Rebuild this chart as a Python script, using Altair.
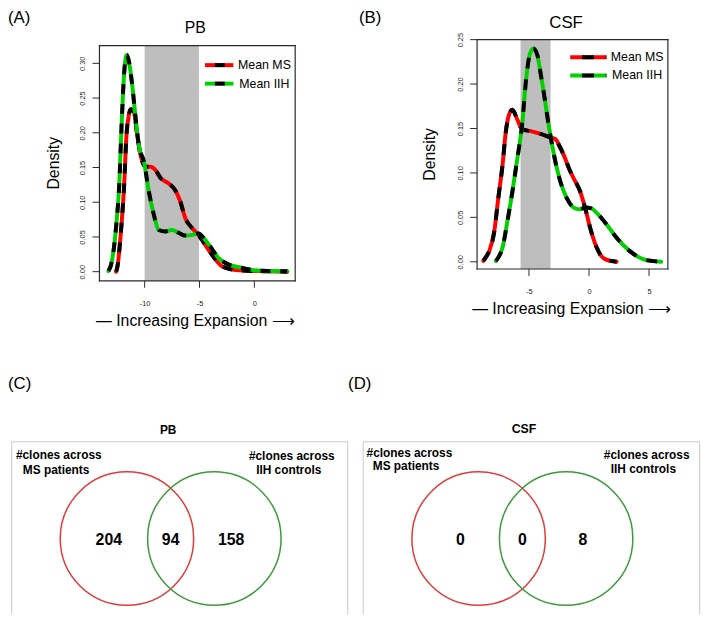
import altair as alt
import pandas as pd

FONT = "Liberation Sans"

# ------------------------------------------------------------------ data
# (A) PB density curves
pb_ms_x = [-12.6, -12.45, -12.32, -12.1, -11.87, -11.66, -11.45, -11.27, -10.97, -10.67,
           -10.36, -9.91, -9.46, -9.0, -8.55, -7.8, -7.2, -6.75, -6.29, -5.69, -5.09,
           -4.79, -3.89, -2.98, -2.08, -1.0, 0.04, 1.5, 3.0]
pb_ms_y = [0.000, 0.010, 0.029, 0.070, 0.124, 0.196, 0.225, 0.234, 0.229, 0.196,
           0.167, 0.151, 0.151, 0.146, 0.135, 0.127, 0.117, 0.101, 0.077, 0.063, 0.053,
           0.046, 0.025, 0.008, 0.0034, 0.0015, 0.001, 0.0005, 0.0]
pb_iih_x = [-13.3, -13.1, -12.93, -12.6, -12.32, -12.08, -11.85, -11.63, -11.4, -11.12,
            -10.81, -10.52, -10.06, -9.61, -9.16, -8.71, -8.1, -7.5, -6.9, -6.29, -5.6,
            -5.09, -4.6, -4.19, -3.28, -2.38, -1.18, 0.04, 1.5, 3.0]
pb_iih_y = [0.001, 0.008, 0.020, 0.065, 0.124, 0.219, 0.290, 0.312, 0.300, 0.267,
            0.219, 0.181, 0.158, 0.115, 0.082, 0.060, 0.058, 0.060, 0.056, 0.052, 0.053,
            0.055, 0.048, 0.040, 0.020, 0.0105, 0.0057, 0.002, 0.001, 0.0005]
pb_band = [-10.0, -5.05]

# (B) CSF density curves
csf_ms_x = [-8.8, -8.6, -8.31, -7.89, -7.56, -7.2, -6.93, -6.65, -6.38, -5.97, -5.55,
            -4.86, -4.03, -3.21, -2.79, -2.45, -2.1, -1.6, -1.28, -0.73, -0.31, 0.1,
            0.64, 1.0, 1.34, 2.3]
csf_ms_y = [0.001, 0.005, 0.012, 0.034, 0.071, 0.109, 0.146, 0.166, 0.171, 0.160, 0.149,
            0.147, 0.144, 0.140, 0.138, 0.130, 0.120, 0.103, 0.094, 0.079, 0.060, 0.038,
            0.016, 0.007, 0.003, 0.0]
csf_iih_x = [-7.75, -7.5, -7.2, -6.79, -6.38, -5.97, -5.55, -5.27, -4.92, -4.64, -4.31,
             -4.03, -3.76, -3.43, -3.16, -2.79, -2.38, -1.83, -1.28, -0.8, -0.31, 0.2,
             0.64, 1.47, 2.3, 3.4, 4.5, 5.2, 6.0]
csf_iih_y = [0.001, 0.006, 0.016, 0.046, 0.079, 0.116, 0.157, 0.201, 0.234, 0.240, 0.233,
             0.212, 0.190, 0.160, 0.138, 0.112, 0.090, 0.071, 0.061, 0.059, 0.061, 0.060,
             0.055, 0.042, 0.027, 0.012, 0.003, 0.001, 0.0]
csf_band = [-5.7, -3.2]

pb_xticks = [-10, -5, 0]
pb_yticks = [0.0, 0.05, 0.10, 0.15, 0.20, 0.25, 0.30]
csf_xticks = [-5, 0, 5]
csf_yticks = [0.0, 0.05, 0.10, 0.15, 0.20, 0.25]

legend_labels = ["Mean MS", "Mean IIH"]

# (C)/(D) Venn counts: MS only, shared, IIH only
venn_groups = ["MS", "IIH"]
pb_counts = [204, 94, 158]
csf_counts = [0, 0, 8]

# ------------------------------------------------------------------ layout
W, H = 701, 606
M = 8  # page margin


def px(v):
    return v - M


RED, GREEN = "#FF0000", "#00D000"
VRED, VGREEN = "#E4393B", "#3C9A3C"
INK = "#2a2a2a"

# plot frames (reference pixel coordinates: left, right, top, bottom)
A_BOX = (100.5, 298.5, 42.5, 280.5)
B_BOX = (482.5, 675.5, 36.5, 268.5)

A_X = ([-14.12, 3.72], [px(A_BOX[0]), px(A_BOX[1])])
A_Y = ([-0.0132, 0.3256], [px(A_BOX[3]), px(A_BOX[2])])
B_X = ([-9.32, 6.57], [px(B_BOX[0]), px(B_BOX[1])])
B_Y = ([-0.0081, 0.25], [px(B_BOX[3]), px(B_BOX[2])])

V_XDOM = [-2.365, 2.635]
V_YDOM = [-1.257, 1.44]
C_X = (V_XDOM, [px(11.7), px(351.7)])
D_X = (V_XDOM, [px(367.3), px(707.7)])
V_Y = (V_YDOM, [px(626.7), px(443.3)])
venn_centers = [-0.65, 0.65]
venn_label_x = [-0.92, 0.0, 0.9]

XTITLE = "— Increasing Expansion ⟶"
TICK = 7


def sc(s):
    return alt.Scale(domain=s[0], range=s[1], nice=False, zero=False)


def curve(xv, yv, color, XS, YS, dash):
    df = pd.DataFrame({"x": xv, "y": yv})
    base = alt.Chart(df).encode(
        x=alt.X("x:Q", scale=sc(XS), axis=None),
        y=alt.Y("y:Q", scale=sc(YS), axis=None),
    )
    col = base.mark_line(color=color, strokeWidth=4, interpolate="monotone",
                         strokeCap="round")
    blk = base.mark_line(color="black", strokeWidth=4, interpolate="monotone",
                         strokeDash=[dash, dash], strokeCap="butt")
    return [col, blk]


def rect(XS, YS, xr, yr, **style):
    df = pd.DataFrame({"x1": [xr[0]], "x2": [xr[1]], "y1": [yr[0]], "y2": [yr[1]]})
    return alt.Chart(df).mark_rect(**style).encode(
        x=alt.X("x1:Q", scale=sc(XS), axis=None), x2="x2:Q",
        y=alt.Y("y1:Q", scale=sc(YS), axis=None), y2="y2:Q")


def bar(x0, x1, y0, y1, color):
    # thin filled strip used for the plot border
    return alt.Chart(pd.DataFrame({"k": [0]})).mark_rect(
        color=color, opacity=1).encode(
        x=alt.value(px(x0)), x2=alt.value(px(x1)),
        y=alt.value(px(y0)), y2=alt.value(px(y1)))


def plot_frame(box, color=INK, w=1.2):
    l, r, t, b = box
    h = w / 2
    return [bar(l - h, r + h, t - h, t + h, color),
            bar(l - h, r + h, b - h, b + h, color),
            bar(l - h, l + h, t - h, b + h, color),
            bar(r - h, r + h, t - h, b + h, color)]


def tick_marks(XS, YS, xvals, yvals, box):
    l, r, t, b = box
    xt = alt.Chart(pd.DataFrame({"tv": xvals})).mark_rule(
        color=INK, strokeWidth=1, opacity=1).encode(
        x=alt.X("tv:Q", scale=sc(XS), axis=None),
        y=alt.value(px(b)), y2=alt.value(px(b + TICK)))
    yt = alt.Chart(pd.DataFrame({"tw": yvals})).mark_rule(
        color=INK, strokeWidth=1, opacity=1).encode(
        y=alt.Y("tw:Q", scale=sc(YS), axis=None),
        x=alt.value(px(l - TICK)), x2=alt.value(px(l)))
    return [xt, yt]


def axes(XS, YS, xvals, yvals, box, xtitle, ytitle):
    l, r, t, b = box
    df = pd.DataFrame({"ax": XS[0], "ay": YS[0]})
    common = dict(domain=False, grid=False, ticks=True, tickOpacity=0,
                  tickSize=TICK, labelFont=FONT, labelFontSize=7.5,
                  labelColor="#222222", labelOverlap=False, titleFont=FONT,
                  titleFontSize=16, titleFontWeight="normal", titleColor="black",
                  titleBaseline="middle", titleAlign="center")
    xaxis = alt.Axis(orient="bottom", offset=px(b) - H, values=xvals,
                     labelExpr="'' + datum.value", labelPadding=12,
                     title=XTITLE, titleX=xtitle[0], titleY=xtitle[1], **common)
    yaxis = alt.Axis(orient="left", offset=-px(l), values=yvals, format=".2f",
                     labelAngle=270, labelAlign="center", labelBaseline="bottom",
                     labelPadding=6, title="Density", titleAngle=270,
                     titleX=ytitle[0], titleY=ytitle[1], **common)
    return alt.Chart(df).mark_point(opacity=0).encode(
        x=alt.X("ax:Q", scale=sc(XS), axis=xaxis),
        y=alt.Y("ay:Q", scale=sc(YS), axis=yaxis))


def text(txt, x, y, size, align="left", weight="normal"):
    return alt.Chart(pd.DataFrame({"t": [txt]})).mark_text(
        align=align, baseline="middle", fontSize=size, fontWeight=weight,
        font=FONT, color="black").encode(
        text="t:N", x=alt.value(px(x)), y=alt.value(px(y)))


def legend_item(x0, x1, y, color, dash, label, tx):
    d = pd.DataFrame({"k": [0]})
    col = alt.Chart(d).mark_rule(color=color, strokeWidth=4).encode(
        x=alt.value(px(x0)), x2=alt.value(px(x1)), y=alt.value(px(y)))
    blk = alt.Chart(d).mark_rule(color="black", strokeWidth=4, strokeDash=[dash, dash],
                                 strokeDashOffset=dash).encode(
        x=alt.value(px(x0)), x2=alt.value(px(x1)), y=alt.value(px(y)))
    return [col, blk, text(label, tx, y, 12.5)]


def venn(XS, counts):
    (xa, xb), (ya, yb) = V_XDOM, V_YDOM
    bdf = pd.DataFrame({"fx1": [xa, xa, xa, xb], "fx2": [xb, xb, xa, xb],
                        "fy1": [ya, yb, ya, ya], "fy2": [ya, yb, yb, yb]})
    box = alt.Chart(bdf).mark_rule(color="#C8C8C8", strokeWidth=1).encode(
        x=alt.X("fx1:Q", scale=sc(XS), axis=None), x2="fx2:Q",
        y=alt.Y("fy1:Q", scale=sc(V_Y), axis=None), y2="fy2:Q")
    cdf = pd.DataFrame({"vx": venn_centers, "vy": [0.0, 0.0], "g": venn_groups})
    circles = alt.Chart(cdf).mark_point(shape="circle", filled=False, size=18225,
                                        strokeWidth=1.5, opacity=1).encode(
        x=alt.X("vx:Q", scale=sc(XS), axis=None),
        y=alt.Y("vy:Q", scale=sc(V_Y), axis=None),
        color=alt.Color("g:N", scale=alt.Scale(domain=venn_groups,
                                               range=[VRED, VGREEN]), legend=None))
    ndf = pd.DataFrame({"vx": venn_label_x, "vy": [-0.02, -0.02, -0.02],
                        "n": [str(c) for c in counts]})
    nums = alt.Chart(ndf).mark_text(fontSize=16, fontWeight="bold", font=FONT,
                                    color="black", baseline="middle").encode(
        x=alt.X("vx:Q", scale=sc(XS), axis=None),
        y=alt.Y("vy:Q", scale=sc(V_Y), axis=None),
        text="n:N")
    return [box, circles, nums]


layers = []
# panel A
layers.append(rect(A_X, A_Y, pb_band, A_Y[0], color="#BEBEBE"))
layers += curve(pb_ms_x, pb_ms_y, RED, A_X, A_Y, 10)
layers += curve(pb_iih_x, pb_iih_y, GREEN, A_X, A_Y, 10)
layers.append(axes(A_X, A_Y, pb_xticks, pb_yticks, A_BOX,
                   (px(197), 40), (-46.5, px(161))))
layers += legend_item(207.3, 236, 62.3, RED, 10, legend_labels[0], 240.7)
layers += legend_item(207.3, 236, 81, GREEN, 10, legend_labels[1], 242)
layers.append(text("(A)", 8, 15, 17))
layers.append(text("PB", 197.5, 25, 16, align="center"))

# panel B
layers.append(rect(B_X, B_Y, csf_band, B_Y[0], color="#BEBEBE"))
layers += curve(csf_ms_x, csf_ms_y, RED, B_X, B_Y, 11)
layers += curve(csf_iih_x, csf_iih_y, GREEN, B_X, B_Y, 11)
layers.append(axes(B_X, B_Y, csf_xticks, csf_yticks, B_BOX,
                   (px(577.5), 40), (-48.5, px(152))))
layers += legend_item(576.7, 613.3, 54.3, RED, 12, legend_labels[0], 617.7)
layers += legend_item(576.7, 613.3, 72.7, GREEN, 12, legend_labels[1], 619)
layers.append(text("(B)", 363, 15, 17))
layers.append(text("CSF", 572.5, 20, 17, align="center"))

# panel C
layers += venn(C_X, pb_counts)
layers.append(text("(C)", 8, 385, 17))
layers.append(text("PB", 170, 431.7, 12, align="center", weight="bold"))
layers.append(text("#clones across", 16, 456.7, 12, weight="bold"))
layers.append(text("MS patients", 23, 471.7, 12, weight="bold"))
layers.append(text("#clones across", 251.7, 458, 12, weight="bold"))
layers.append(text("IIH controls", 259, 472, 12, weight="bold"))

# panel D
layers += venn(D_X, csf_counts)
layers.append(text("(D)", 352, 385, 17))
layers.append(text("CSF", 530, 430, 12.5, align="center", weight="bold"))
layers.append(text("#clones across", 370.7, 455, 12, weight="bold"))
layers.append(text("MS patients", 377, 468.3, 12, weight="bold"))
layers.append(text("#clones across", 610.7, 457, 12, weight="bold"))
layers.append(text("IIH controls", 617.7, 471, 12, weight="bold"))

# plot borders and tick marks of (A) and (B), drawn last
layers += plot_frame(A_BOX)
layers += tick_marks(A_X, A_Y, pb_xticks, pb_yticks, A_BOX)
layers += plot_frame(B_BOX)
layers += tick_marks(B_X, B_Y, csf_xticks, csf_yticks, B_BOX)

chart = alt.layer(*layers).resolve_scale(
    x="independent", y="independent", color="independent"
).properties(
    width=W, height=H, autosize=alt.AutoSizeParams(type="none"), padding=0,
    background="white"
).configure_view(strokeWidth=0)

chart.save("out.html", embed_options={"renderer": "svg", "actions": False})
